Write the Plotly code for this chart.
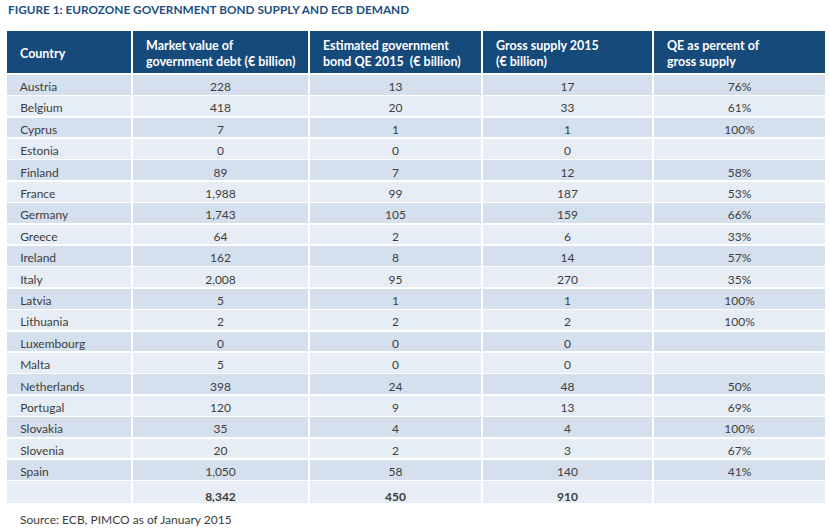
import plotly.graph_objects as go

countries = ["Austria", "Belgium", "Cyprus", "Estonia", "Finland", "France", "Germany",
             "Greece", "Ireland", "Italy", "Latvia", "Lithuania", "Luxembourg", "Malta",
             "Netherlands", "Portugal", "Slovakia", "Slovenia", "Spain"]
market_value = [228, 418, 7, 0, 89, 1988, 1743, 64, 162, 2008, 5, 2, 0, 5, 398, 120, 35, 20, 1050]
qe_2015 = [13, 20, 1, 0, 7, 99, 105, 2, 8, 95, 1, 2, 0, 0, 24, 9, 4, 2, 58]
gross_supply = [17, 33, 1, 0, 12, 187, 159, 6, 14, 270, 1, 2, 0, 0, 48, 13, 4, 3, 140]
qe_pct = [76, 61, 100, None, 58, 53, 66, 33, 57, 35, 100, 100, None, None, 50, 69, 100, 67, 41]
totals = [8342, 450, 910]

headers = ["Country",
           "Market value of<br>government debt (€ billion)",
           "Estimated government<br>bond QE 2015  (€ billion)",
           "Gross supply 2015<br>(€ billion)",
           "QE as percent of<br>gross supply"]

DARK = "#164a7b"
ROW_A = "#d5e0ee"
ROW_B = "#e7edf5"
TEXT = "#3d3d3d"
PAD = "\u00a0" * 2

W, H = 830, 531
ML, MR, MT, MB = 6, 4, 30, 28
col_w = [126, 177, 173, 171, 173]
HEAD_H = 44
ROW_H = 21.4


def fmt(v):
    return f"{v:,}"


col_country = [PAD + c for c in countries] + [""]
col_market = [fmt(v) for v in market_value] + [f"<b>{fmt(totals[0])}</b>"]
col_qe = [fmt(v) for v in qe_2015] + [f"<b>{fmt(totals[1])}</b>"]
col_gross = [fmt(v) for v in gross_supply] + [f"<b>{fmt(totals[2])}</b>"]
col_pct = [f"{v}%" if v is not None else "" for v in qe_pct] + [""]

n_rows = len(col_country)
fills = [ROW_A if i % 2 == 0 else ROW_B for i in range(n_rows)]

fig = go.Figure()

fig.add_trace(go.Table(
    columnwidth=col_w,
    header=dict(
        values=[""] * 5,
        fill_color=DARK,
        line=dict(color="white", width=1.5),
        height=HEAD_H,
    ),
    cells=dict(
        values=[col_country, col_market, col_qe, col_gross, col_pct],
        fill_color=[fills] * 5,
        line=dict(color="white", width=1.5),
        align=["left", "center", "center", "center", "center"],
        font=dict(family="Lato", size=12, color=TEXT),
        height=ROW_H,
    ),
    domain=dict(x=[0, 1], y=[0, 1]),
))

# header text drawn as annotations so it can sit vertically centred
left = 0
for w, txt in zip(col_w, headers):
    fig.add_annotation(
        text=f"<b>{txt}</b>", xref="paper", yref="paper",
        x=0, y=1, xshift=left + 12, yshift=-(HEAD_H / 2 + 1),
        xanchor="left", yanchor="middle", align="left", showarrow=False,
        font=dict(family="Lato", size=12.5, color="white"),
    )
    left += w

fig.add_annotation(
    text="<b>FIGURE 1: EUROZONE GOVERNMENT BOND SUPPLY AND ECB DEMAND</b>",
    xref="paper", yref="paper", x=0, y=1, yshift=21,
    xanchor="left", yanchor="middle", showarrow=False,
    font=dict(family="Lato", size=11.8, color="#1d4f83"),
)
fig.add_annotation(
    text="Source: ECB, PIMCO as of January 2015",
    xref="paper", yref="paper", x=0, y=0, yshift=-16, xshift=12,
    xanchor="left", yanchor="middle", showarrow=False,
    font=dict(family="Lato", size=12, color=TEXT),
)

fig.update_layout(
    width=W, height=H,
    margin=dict(l=ML, r=MR, t=MT, b=MB),
    paper_bgcolor="white",
)

fig.write_html("out.html", config={"displayModeBar": False},
               post_script="document.body.style.margin='0';")
